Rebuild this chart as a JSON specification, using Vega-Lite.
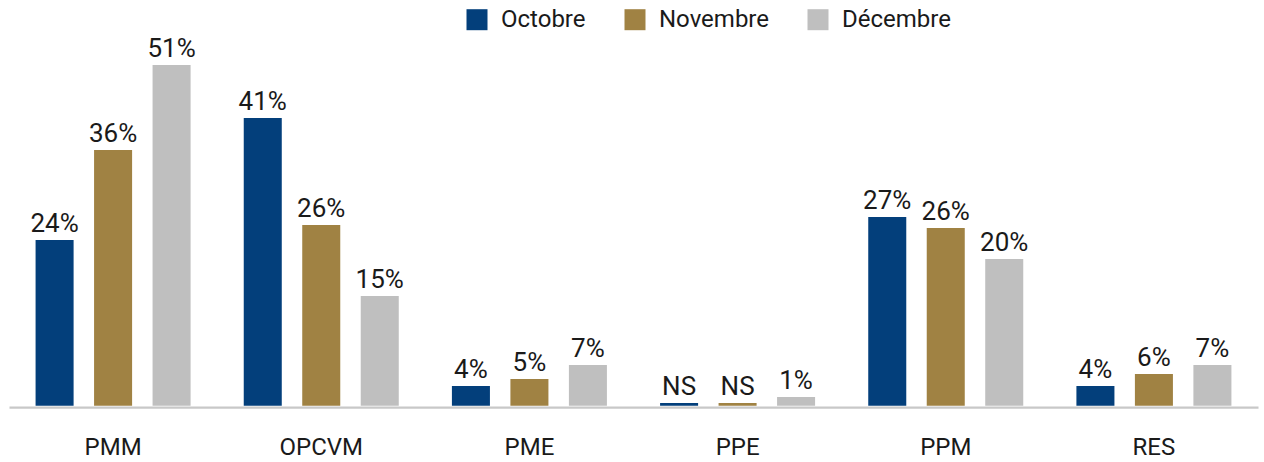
{
  "$schema": "https://vega.github.io/schema/vega-lite/v6.json",
  "width": 1249,
  "height": 350,
  "autosize": {"type": "none"},
  "padding": {"left": 9, "top": 55.7, "right": 6, "bottom": 56.3},
  "config": {"view": {"stroke": null}, "font": "Roboto"},
  "data": {
    "values": [
      {"cat": "PMM", "mois": "Octobre", "value": 23.67, "label": "24%"},
      {"cat": "PMM", "mois": "Novembre", "value": 36.53, "label": "36%"},
      {"cat": "PMM", "mois": "Décembre", "value": 48.67, "label": "51%"},
      {"cat": "OPCVM", "mois": "Octobre", "value": 41.1, "label": "41%"},
      {"cat": "OPCVM", "mois": "Novembre", "value": 25.81, "label": "26%"},
      {"cat": "OPCVM", "mois": "Décembre", "value": 15.67, "label": "15%"},
      {"cat": "PME", "mois": "Octobre", "value": 2.81, "label": "4%"},
      {"cat": "PME", "mois": "Novembre", "value": 3.81, "label": "5%"},
      {"cat": "PME", "mois": "Décembre", "value": 5.81, "label": "7%"},
      {"cat": "PPE", "mois": "Octobre", "value": 0.39, "label": "NS"},
      {"cat": "PPE", "mois": "Novembre", "value": 0.39, "label": "NS"},
      {"cat": "PPE", "mois": "Décembre", "value": 1.24, "label": "1%"},
      {"cat": "PPM", "mois": "Octobre", "value": 26.96, "label": "27%"},
      {"cat": "PPM", "mois": "Novembre", "value": 25.39, "label": "26%"},
      {"cat": "PPM", "mois": "Décembre", "value": 20.96, "label": "20%"},
      {"cat": "RES", "mois": "Octobre", "value": 2.81, "label": "4%"},
      {"cat": "RES", "mois": "Novembre", "value": 4.53, "label": "6%"},
      {"cat": "RES", "mois": "Décembre", "value": 5.81, "label": "7%"}
    ]
  },
  "encoding": {
    "x": {
      "field": "cat",
      "type": "nominal",
      "sort": ["PMM", "OPCVM", "PME", "PPE", "PPM", "RES"],
      "scale": {"paddingInner": 0.157, "paddingOuter": 0.0785},
      "axis": {
        "title": null,
        "labelAngle": 0,
        "ticks": false,
        "domainColor": "#c8c8c8",
        "domainWidth": 2.3,
        "offset": 1.5,
        "labelFontSize": 24,
        "labelColor": "#1a1a1a",
        "labelBaseline": "alphabetic",
        "labelPadding": 47
      }
    },
    "xOffset": {
      "field": "mois",
      "sort": ["Octobre", "Novembre", "Décembre"],
      "scale": {"paddingInner": 0.35, "paddingOuter": 0.175}
    },
    "y": {
      "field": "value",
      "type": "quantitative",
      "scale": {"domain": [0, 50]},
      "axis": null
    }
  },
  "layer": [
    {
      "mark": {"type": "bar"},
      "encoding": {
        "color": {
          "field": "mois",
          "type": "nominal",
          "sort": ["Octobre", "Novembre", "Décembre"],
          "scale": {"domain": ["Octobre", "Novembre", "Décembre"], "range": ["#033f7b", "#a08243", "#bfbfbf"]},
          "legend": {
            "title": null,
            "orient": "none",
            "direction": "horizontal",
            "legendX": 456,
            "legendY": -48,
            "padding": 0,
            "symbolType": "square",
            "symbolSize": 441,
            "symbolStrokeWidth": 0,
            "labelFontSize": 24,
            "labelColor": "#1a1a1a",
            "labelOffset": 12,
            "columnPadding": 37
          }
        }
      }
    },
    {
      "mark": {"type": "text", "dy": -8, "baseline": "alphabetic", "fontSize": 26, "color": "#1a1a1a"},
      "encoding": {"text": {"field": "label"}}
    }
  ]
}
